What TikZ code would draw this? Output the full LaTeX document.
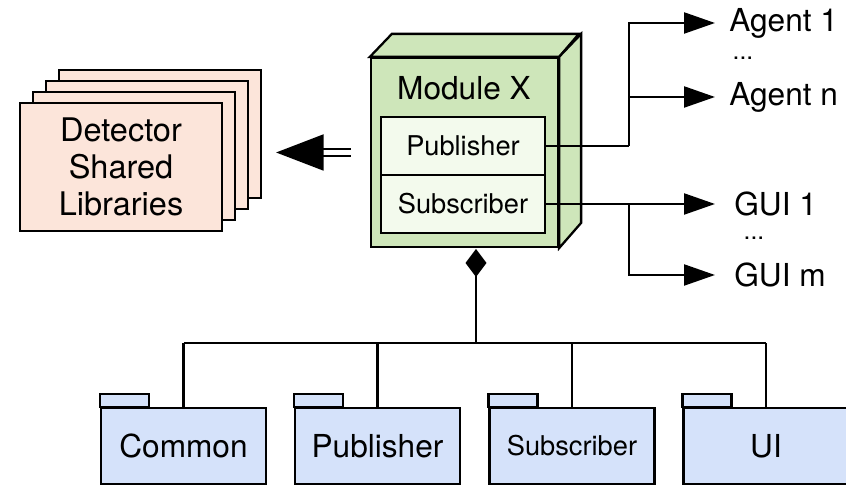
\documentclass[tikz,border=0pt]{standalone}
\usepackage{fontspec}
\setmainfont{TeX Gyre Heros}
\usetikzlibrary{positioning,arrows.meta}
\definecolor{libpeach}{RGB}{252,229,218}
\definecolor{modgreen}{RGB}{206,230,186}
\definecolor{partgreen}{RGB}{243,250,237}
\definecolor{pkgblue}{RGB}{213,226,250}

\begin{document}
\begin{tikzpicture}[
  x=0.02cm, y=-0.02cm,
  libbox/.style={draw, line width=1.3pt, fill=libpeach, minimum width=4.04cm, minimum height=2.56cm, inner sep=0pt},
  modface/.style={draw, line width=1.3pt, fill=modgreen},
  partbox/.style={draw, line width=1.3pt, fill=partgreen, minimum width=3.28cm, minimum height=1.16cm, inner sep=0pt, font=\fontsize{15.5}{18}\selectfont},
  pkg/.style={draw, line width=1.3pt, fill=pkgblue, minimum width=3.3cm, minimum height=1.52cm, inner sep=0pt, font=\fontsize{18}{20}\selectfont},
  tab/.style={draw, line width=1.3pt, fill=pkgblue},
  target/.style={anchor=west, inner ysep=0pt, inner xsep=0.28cm, font=\fontsize{18}{20}\selectfont},
  dots/.style={font=\fontsize{14}{16}\selectfont},
  wire/.style={line width=1.3pt},
  conn/.style={wire, -{Triangle[length=6.2mm, width=4.2mm]}},
  >=Triangle
]
\useasboundingbox (0,0) rectangle (846,492);

% shared libraries, stacked
\foreach \k/\xx/\yy in {3/160/134, 2/147/145, 1/134/156}
  \node[libbox] (lib\k) at (\xx,\yy) {};
\node[libbox, align=center, font=\fontsize{18.5}{21}\selectfont] (lib) at (121,167) {Detector\\Shared\\Libraries};

% module X as a 3d box
\node[modface, minimum width=3.74cm, minimum height=3.78cm, inner sep=0pt] (modx) at (464.5,152.5) {};
\draw[modface] (modx.north west) -- ++(22,-23) -- ++(187,0) -- (modx.north east) -- cycle;
\draw[modface] (modx.north east) -- ++(22,-23) -- ++(0,189) -- (modx.south east) -- cycle;
\node[font=\fontsize{18}{20}\selectfont] (mtitle) at (464,88) {Module X};
\node[partbox] (pub) at (463,146) {Publisher};
\node[partbox] (sub) at (463,204) {Subscriber};

\draw[line width=1.1pt, double, double distance=2.8pt, -{Triangle[length=9.5mm, width=7.2mm]},
  shorten <=3.8mm, shorten >=2.8mm] (modx.west) -- (lib3.east |- modx.west);

% receivers
\node[target] (ag1) at (715,23) {Agent 1};
\node[dots] (agdots) at (743,58) {...};
\node[target] (agn) at (715,97) {Agent n};
\node[target, inner xsep=0.38cm] (gui1) at (715,204) {GUI 1};
\node[dots] (guidots) at (754,238) {...};
\node[target, inner xsep=0.38cm] (guim) at (715,275) {GUI m};

\coordinate (pbend) at (629,146);
\coordinate (sbend) at (629,204);
\draw[wire] (pub.east) -- (pbend);
\draw[conn] (pbend) |- (ag1);
\draw[conn] (pbend) |- (agn);
\draw[conn] (sub.east) -- (gui1);
\draw[conn] (sbend) |- (guim);

% packages
\coordinate (mbase) at (476,249);
\coordinate (hub) at (476,343);
\draw[wire, {Diamond[length=5.6mm, width=4.2mm]}-] (mbase) -- (hub);

\node[pkg] (com) at (183.5,446) {Common};
\node[pkg] (pubp) at (377.5,446) {Publisher};
\node[pkg, font=\fontsize{15.5}{18}\selectfont] (subp) at (572,446) {Subscriber};
\node[pkg] (ui) at (766,446) {UI};
\foreach \n in {com,pubp,subp,ui} {
  \draw[tab] (\n.north west) rectangle ++(49,-13);
  \draw[wire] (\n.north) -- (\n.north |- hub);
}
\draw[wire] (com.north |- hub) -- (ui.north |- hub);
\end{tikzpicture}
\end{document}
